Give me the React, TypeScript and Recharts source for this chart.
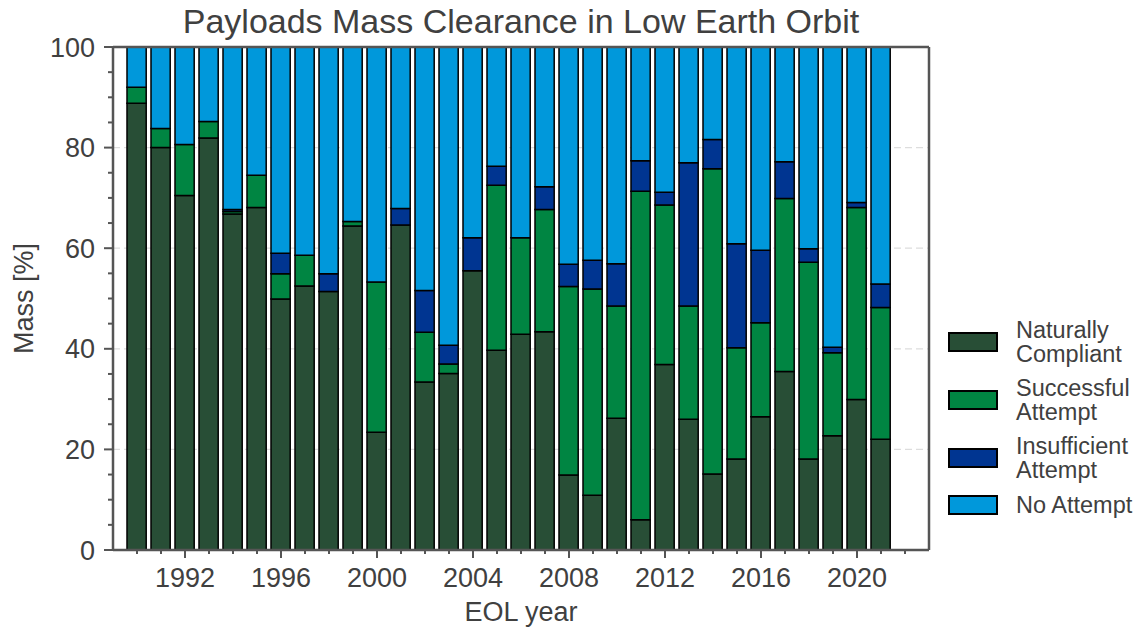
import React from 'react';
import { BarChart, Bar, XAxis, YAxis, CartesianGrid, ReferenceLine } from 'recharts';

const YEARS = [1990, 1991, 1992, 1993, 1994, 1995, 1996, 1997, 1998, 1999, 2000, 2001, 2002, 2003, 2004, 2005,
  2006, 2007, 2008, 2009, 2010, 2011, 2012, 2013, 2014, 2015, 2016, 2017, 2018, 2019, 2020, 2021];

const NATURALLY_COMPLIANT = [88.8, 80.0, 70.5, 81.9, 66.8, 68.1, 49.9, 52.5, 51.4, 64.4, 23.4, 64.6, 33.4, 35.1, 55.5, 39.7,
  42.9, 43.4, 14.9, 10.9, 26.2, 6.0, 36.9, 26.0, 15.1, 18.1, 26.5, 35.5, 18.1, 22.7, 29.9, 22.0];
const SUCCESSFUL_ATTEMPT = [3.2, 3.8, 10.1, 3.3, 0.5, 6.4, 5.0, 6.1, 0, 0.9, 29.9, 0, 9.9, 1.9, 0, 32.8,
  19.2, 24.3, 37.5, 41.0, 22.3, 65.3, 31.7, 22.5, 60.7, 22.1, 18.7, 34.4, 39.1, 16.5, 38.2, 26.2];
const INSUFFICIENT_ATTEMPT = [0, 0, 0, 0, 0.4, 0, 4.1, 0, 3.5, 0, 0, 3.3, 8.3, 3.7, 6.6, 3.8,
  0, 4.5, 4.4, 5.7, 8.4, 6.1, 2.5, 28.5, 5.8, 20.7, 14.4, 7.3, 2.7, 1.1, 1.0, 4.7];
const NO_ATTEMPT = [8.0, 16.2, 19.4, 14.8, 32.3, 25.5, 41.0, 41.4, 45.1, 34.7, 46.7, 32.1, 48.4, 59.3, 37.9, 23.7,
  37.9, 27.8, 43.2, 42.4, 43.1, 22.6, 28.9, 23.0, 18.4, 39.1, 40.4, 22.8, 40.1, 59.7, 30.9, 47.1];

const X_TICKS = [1990, 1991, 1992, 1993, 1994, 1995, 1996, 1997, 1998, 1999, 2000, 2001, 2002, 2003, 2004, 2005,
  2006, 2007, 2008, 2009, 2010, 2011, 2012, 2013, 2014, 2015, 2016, 2017, 2018, 2019, 2020, 2021, 2022];
const X_LABELED = [1992, 1996, 2000, 2004, 2008, 2012, 2016, 2020];
const Y_TICKS = [0, 5, 10, 15, 20, 25, 30, 35, 40, 45, 50, 55, 60, 65, 70, 75, 80, 85, 90, 95, 100];
const Y_LABELED = [0, 20, 40, 60, 80, 100];
const GRID_VALUES = [20, 40, 60, 80];

const TITLE = 'Payloads Mass Clearance in Low Earth Orbit';
const X_LABEL = 'EOL year';
const Y_LABEL = 'Mass [%]';

const SERIES = [
  { key: 'nc', lines: ['Naturally', 'Compliant'], color: '#284E36', values: NATURALLY_COMPLIANT },
  { key: 'sa', lines: ['Successful', 'Attempt'], color: '#008542', values: SUCCESSFUL_ATTEMPT },
  { key: 'ia', lines: ['Insufficient', 'Attempt'], color: '#003591', values: INSUFFICIENT_ATTEMPT },
  { key: 'na', lines: ['No Attempt'], color: '#0098DB', values: NO_ATTEMPT },
];

const data = YEARS.map((year, i) => {
  const row: Record<string, number> = { year };
  SERIES.forEach((s) => { row[s.key] = s.values[i]; });
  return row;
});

const FONT = '"Liberation Sans", Arial, Helvetica, sans-serif';
const TEXT = '#404040';
const AXIS = '#555555';

const XTick = (props: any) => {
  const { x, y, payload } = props;
  const major = X_LABELED.includes(payload.value);
  return (
    <g>
      <line x1={x} x2={x} y1={y} y2={y + (major ? 8 : 4)} stroke={AXIS} strokeWidth={2} />
      {major && (
        <text x={x} y={y + 37} textAnchor="middle" fontSize={27} fill={TEXT} fontFamily={FONT}>
          {payload.value}
        </text>
      )}
    </g>
  );
};

const YTick = (props: any) => {
  const { x, y, payload } = props;
  const major = Y_LABELED.includes(payload.value);
  return (
    <g>
      <line x1={x - (major ? 9 : 5)} x2={x} y1={y} y2={y} stroke={AXIS} strokeWidth={2} />
      {major && (
        <text x={x - 18} y={y + 9.5} textAnchor="end" fontSize={27} fill={TEXT} fontFamily={FONT}>
          {payload.value}
        </text>
      )}
    </g>
  );
};

const XLabel = (p: any) => {
  const vb = p.viewBox || { x: 113, y: 550, width: 816, height: 60 };
  return (
    <text x={vb.x + vb.width / 2} y={vb.y + 71} textAnchor="middle" fontSize={27} fill={TEXT} fontFamily={FONT}>
      {X_LABEL}
    </text>
  );
};

const YLabel = (p: any) => {
  const vb = p.viewBox || { x: 33, y: 47, width: 80, height: 503 };
  const cx = 33;
  const cy = vb.y + vb.height / 2;
  return (
    <text x={cx} y={cy} textAnchor="middle" fontSize={27} fill={TEXT} fontFamily={FONT}
      transform={`rotate(-90, ${cx}, ${cy})`}>
      {Y_LABEL}
    </text>
  );
};

const LEGEND_CENTERS = [342, 400, 458, 505];

export default function App() {
  return (
    <div style={{ position: 'absolute', left: 0, top: 0, width: 1142, height: 629, background: '#fff', fontFamily: FONT }}>
      <BarChart
        width={1142}
        height={629}
        data={data}
        margin={{ top: 47, right: 213, bottom: 19, left: 33 }}
        barSize={19.2}
      >
        <CartesianGrid
          vertical={false}
          stroke="#dddddd"
          strokeDasharray="7 4"
          strokeWidth={1.3}
          horizontalCoordinatesGenerator={(args: any) => {
            const ya = args && args.yAxis;
            if (ya && typeof ya.scale === 'function') return GRID_VALUES.map((v) => ya.scale(v));
            const off = args.offset;
            return GRID_VALUES.map((v) => off.top + off.height * (1 - v / 100));
          }}
        />
        {SERIES.map((s) => (
          <Bar key={s.key} dataKey={s.key} stackId="a" fill={s.color} stroke="#000" strokeWidth={1.5}
            isAnimationActive={false} />
        ))}
        <ReferenceLine y={100} stroke={AXIS} strokeWidth={2.5} />
        <ReferenceLine x={2023} stroke={AXIS} strokeWidth={2.5} />
        <XAxis
          dataKey="year"
          type="number"
          domain={[1989, 2023]}
          ticks={X_TICKS}
          interval={0}
          tick={<XTick />}
          tickLine={false}
          tickSize={0}
          tickMargin={0}
          axisLine={{ stroke: AXIS, strokeWidth: 2.5 }}
          height={60}
          label={(p: any) => <XLabel {...p} />}
        />
        <YAxis
          type="number"
          domain={[0, 100]}
          ticks={Y_TICKS}
          interval={0}
          tick={<YTick />}
          tickLine={false}
          tickSize={0}
          tickMargin={0}
          axisLine={{ stroke: AXIS, strokeWidth: 2.5 }}
          width={80}
          label={(p: any) => <YLabel {...p} />}
        />
      </BarChart>
      <svg width={1142} height={629} style={{ position: 'absolute', left: 0, top: 0, pointerEvents: 'none' }}>
        <text x={521} y={33} textAnchor="middle" fontSize={34} fill={TEXT} fontFamily={FONT}>{TITLE}</text>
        {SERIES.map((s, i) => {
          const cy = LEGEND_CENTERS[i];
          return (
            <g key={s.key}>
              <rect x={949} y={cy - 9} width={48} height={18} fill={s.color} stroke="#000" strokeWidth={2} />
              {s.lines.map((ln, j) => (
                <text key={j} x={1016} y={cy + 8 - (s.lines.length - 1) * 12 + j * 24} fontSize={23.5} fill={TEXT}
                  fontFamily={FONT}>
                  {ln}
                </text>
              ))}
            </g>
          );
        })}
      </svg>
    </div>
  );
}
